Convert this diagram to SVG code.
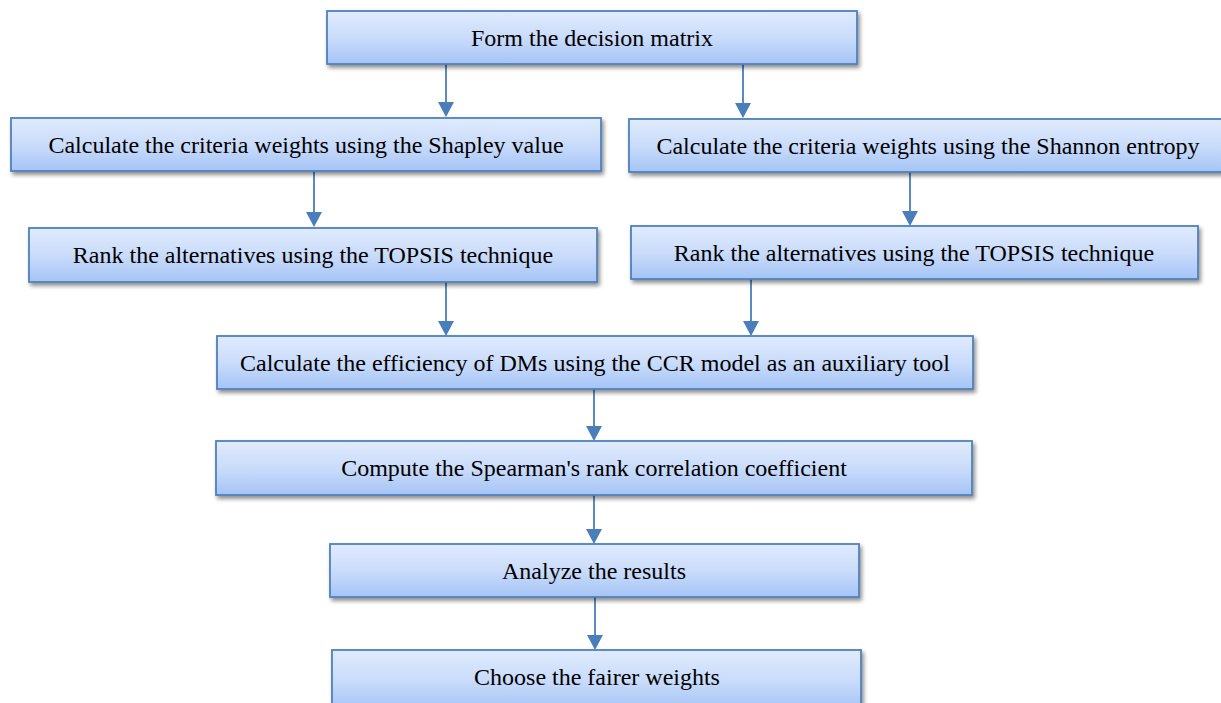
<svg xmlns="http://www.w3.org/2000/svg" width="1221" height="703" viewBox="0 0 1221 703">
<defs>
<linearGradient id="g" x1="0" y1="0" x2="0" y2="1">
<stop offset="0" stop-color="#e0ebfd"/>
<stop offset="0.5" stop-color="#cadcfb"/>
<stop offset="1" stop-color="#a5c4f5"/>
</linearGradient>
<filter id="sh" x="-5%" y="-20%" width="110%" height="160%">
<feGaussianBlur in="SourceAlpha" stdDeviation="2"/>
<feOffset dx="2" dy="3" result="b"/>
<feComponentTransfer><feFuncA type="linear" slope="0.45"/></feComponentTransfer>
<feMerge><feMergeNode/><feMergeNode in="SourceGraphic"/></feMerge>
</filter>
</defs>
<style>
.box{fill:url(#g);stroke:#4f81bd;stroke-width:1.8;filter:url(#sh)}
.t{font-family:"Liberation Serif","Times New Roman",serif;font-size:24px;fill:#000;text-anchor:middle;dominant-baseline:central}
.c{stroke:#4a7ebb;stroke-width:1.8;fill:none}
.h{fill:#4a7ebb}
</style>
<g id="connectors">
<line class="c" x1="446" y1="64" x2="446" y2="102"/><path class="h" d="M438,102 L454,102 L446,117 Z"/>
<line class="c" x1="743" y1="64" x2="743" y2="103"/><path class="h" d="M735,103 L751,103 L743,118 Z"/>
<line class="c" x1="314" y1="171" x2="314" y2="212"/><path class="h" d="M306,212 L322,212 L314,227 Z"/>
<line class="c" x1="910" y1="172" x2="910" y2="211"/><path class="h" d="M902,211 L918,211 L910,226 Z"/>
<line class="c" x1="446" y1="282" x2="446" y2="321"/><path class="h" d="M438,321 L454,321 L446,336 Z"/>
<line class="c" x1="751" y1="279" x2="751" y2="321"/><path class="h" d="M743,321 L759,321 L751,336 Z"/>
<line class="c" x1="594" y1="389" x2="594" y2="426"/><path class="h" d="M586,426 L602,426 L594,441 Z"/>
<line class="c" x1="594" y1="495" x2="594" y2="529"/><path class="h" d="M586,529 L602,529 L594,544 Z"/>
<line class="c" x1="595" y1="597" x2="595" y2="635"/><path class="h" d="M587,635 L603,635 L595,650 Z"/>
</g>
<g id="n1"><rect class="box" x="327" y="11" width="530" height="53"/><text class="t" x="592" y="38">Form the decision matrix</text></g>
<g id="n2"><rect class="box" x="11" y="118" width="590" height="53"/><text class="t" x="306" y="145">Calculate the criteria weights using the Shapley value</text></g>
<g id="n3"><rect class="box" x="629" y="119" width="600" height="53"/><text class="t" x="928" y="146">Calculate the criteria weights using the Shannon entropy</text></g>
<g id="n4"><rect class="box" x="29" y="228" width="568" height="54"/><text class="t" x="313" y="255">Rank the alternatives using the TOPSIS technique</text></g>
<g id="n5"><rect class="box" x="631" y="226" width="567" height="53"/><text class="t" x="914" y="253">Rank the alternatives using the TOPSIS technique</text></g>
<g id="n6"><rect class="box" x="217" y="336" width="756" height="53"/><text class="t" x="595" y="363">Calculate the efficiency of DMs using the CCR model as an auxiliary tool</text></g>
<g id="n7"><rect class="box" x="216" y="441" width="756" height="54"/><text class="t" x="594" y="468">Compute the Spearman's rank correlation coefficient</text></g>
<g id="n8"><rect class="box" x="330" y="544" width="529" height="53"/><text class="t" x="594" y="571">Analyze the results</text></g>
<g id="n9"><rect class="box" x="332" y="650" width="529" height="60"/><text class="t" x="597" y="677">Choose the fairer weights</text></g>
</svg>
